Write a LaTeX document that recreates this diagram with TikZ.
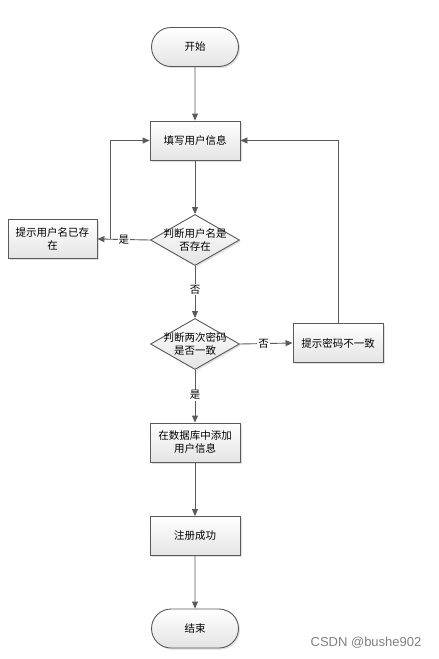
\documentclass[tikz,border=0pt]{standalone}
\usepackage{fontspec}
\newfontfamily\cjk{Noto Sans CJK SC}
\setmainfont{Liberation Sans}
\usetikzlibrary{shapes.geometric,shapes.misc,shadows,arrows.meta,calc}
\definecolor{linec}{RGB}{90,90,90}
\definecolor{topc}{RGB}{255,255,255}
\definecolor{botc}{RGB}{228,228,228}
\tikzset{
  base/.style={draw=linec, line width=0.9pt, top color=topc, bottom color=botc,
    drop shadow={shadow xshift=1.5pt, shadow yshift=-1.5pt, fill=black!25},
    font=\cjk\fontsize{10.5}{13}\selectfont, align=center, inner sep=1pt},
  proc/.style={base, rectangle, minimum width=90pt, minimum height=39pt, text width=84pt},
  term/.style={base, rounded rectangle, minimum width=89pt, minimum height=39pt},
  dec/.style={base, diamond, aspect=1.75, minimum width=89pt, minimum height=51pt, inner sep=0pt},
  dectext/.style={font=\cjk\fontsize{10.5}{13}\selectfont, align=center},
  conn/.style={draw=linec, line width=0.9pt, -{Triangle[length=7pt,width=6pt]}},
  lab/.style={fill=white, font=\cjk\fontsize{10.5}{12}\selectfont, inner sep=1pt}
}
\begin{document}
\begin{tikzpicture}[x=1pt,y=-1pt]
\useasboundingbox (0,0) rectangle (439,659);
\node[term] (start) at (195,47) {开始};
\node[proc] (fill) at (195,140.5) {填写用户信息};
\node[dec, label={[dectext]center:判断用户名是\\否存在}] (d1) at (195,240) {};
\node[proc, minimum width=89pt] (exist) at (52.5,239) {提示用户名已存\\在};
\node[dec, label={[dectext]center:判断两次密码\\是否一致}] (d2) at (195,344) {};
\node[proc] (mismatch) at (338,343) {提示密码不一致};
\node[proc] (add) at (195,442.5) {在数据库中添加\\用户信息};
\node[proc] (ok) at (195,536) {注册成功};
\node[term] (end) at (195,628.5) {结束};
\node[font=\fontsize{13}{15}\selectfont, text=black!50] (wm) at (366,643) {CSDN @bushe902};

\draw[conn] (start) -- (fill);
\draw[conn] (fill) -- (d1);
\draw[conn] (d1.west) -- node[lab, pos=0.5] {是} (exist.east);
\coordinate (up1) at ($(exist.east)+(13,0)$);
\draw[conn] (up1) |- (fill.west);
\draw[conn] (d1.south) -- node[lab, pos=0.45] {否} (d2.north);
\draw[conn] (d2.east) -- node[lab, pos=0.45] {否} (mismatch.west);
\draw[conn] (mismatch.north) |- (fill.east);
\draw[conn] (d2.south) -- node[lab, pos=0.48] {是} (add.north);
\draw[conn] (add) -- (ok);
\draw[conn] (ok) -- (end);
\end{tikzpicture}
\end{document}
